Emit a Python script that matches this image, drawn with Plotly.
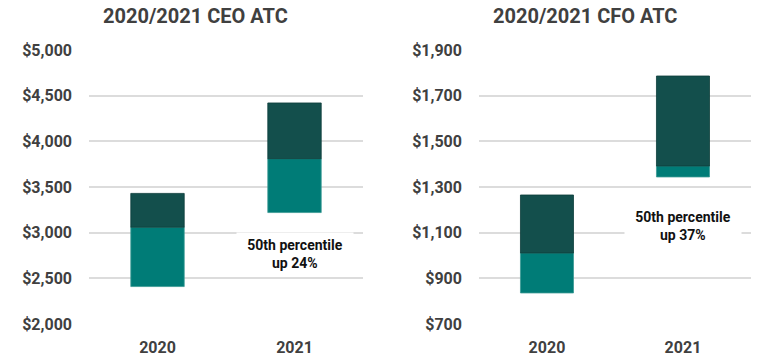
import plotly.graph_objects as go

categories = ["2020", "2021"]

ceo_low = [2410, 3220]
ceo_median = [3060, 3810]
ceo_high = [3430, 4420]

cfo_low = [836, 1344]
cfo_median = [1011, 1392]
cfo_high = [1265, 1786]

ceo_ticks = [2000, 2500, 3000, 3500, 4000, 4500, 5000]
cfo_ticks = [700, 900, 1100, 1300, 1500, 1700, 1900]

titles = ["2020/2021 CEO ATC", "2020/2021 CFO ATC"]
notes = ["50th percentile<br>up 24%", "50th percentile<br>up 37%"]

TEAL = "#007c77"
DARK = "#134f4c"
GRAY = "#404040"
FONT = "Roboto"

fig = go.Figure()

def add_bars(low, med, high, xa, ya):
    fig.add_trace(go.Bar(
        x=categories, y=[m - l for l, m in zip(low, med)], base=low,
        marker=dict(color=TEAL, line=dict(color="#3a9994", width=0.8)),
        xaxis=xa, yaxis=ya, showlegend=False, width=0.39, hoverinfo="skip"))
    fig.add_trace(go.Bar(
        x=categories, y=[h - m for m, h in zip(med, high)], base=med,
        marker=dict(color=DARK, line=dict(color="#0d3d3a", width=0.8)),
        xaxis=xa, yaxis=ya, showlegend=False, width=0.39, hoverinfo="skip"))

add_bars(ceo_low, ceo_median, ceo_high, "x", "y")
add_bars(cfo_low, cfo_median, cfo_high, "x2", "y2")

ydom = [0.1074, 0.8623]
axis_font = dict(family=FONT, size=16, color=GRAY, weight="bold")

def yaxis(ticks, anchor):
    return dict(
        domain=ydom, anchor=anchor, range=[ticks[0], ticks[-1]],
        tickvals=ticks, ticktext=["${:,}".format(t) for t in ticks],
        showgrid=True, gridcolor="#dcdcdc", gridwidth=2,
        zeroline=False, showline=False, ticks="", automargin=False,
        tickfont=axis_font, ticklabelstandoff=16, fixedrange=True)

def xaxis(dom, anchor):
    return dict(
        domain=dom, anchor=anchor, showgrid=False, zeroline=False,
        showline=False, ticks="", tickfont=axis_font, automargin=False,
        ticklabelstandoff=12, range=[-0.5, 1.5], fixedrange=True)

fig.update_layout(
    width=766, height=363,
    margin=dict(l=0, r=0, t=0, b=0, autoexpand=False),
    paper_bgcolor="white", plot_bgcolor="white",
    barmode="overlay",
    xaxis=xaxis([0.1162, 0.4739], "y"),
    xaxis2=xaxis([0.6253, 0.9804], "y2"),
    yaxis=yaxis(ceo_ticks, "x"),
    yaxis2=yaxis(cfo_ticks, "x2"),
    font=dict(family=FONT),
)

title_font = dict(family=FONT, size=20, color=GRAY, weight="bold")
fig.add_annotation(text=titles[0], x=195 / 766, y=1 - 16 / 363, xref="paper",
                   yref="paper", showarrow=False, font=title_font,
                   xanchor="center", yanchor="middle")
fig.add_annotation(text=titles[1], x=585 / 766, y=1 - 16 / 363, xref="paper",
                   yref="paper", showarrow=False, font=title_font,
                   xanchor="center", yanchor="middle")

note_font = dict(family=FONT, size=14, color="#111111", weight="bold")
fig.add_annotation(text=notes[0], x=1, y=2766, xref="x", yref="y",
                   showarrow=False, font=note_font, bgcolor="white",
                   width=114, height=40)
fig.add_annotation(text=notes[1], x=1, y=1129, xref="x2", yref="y2",
                   showarrow=False, font=note_font, bgcolor="white",
                   width=114, height=40)

fig.write_html(
    "out.html",
    config={"displayModeBar": False},
    post_script="document.body.style.margin='0';document.body.style.overflow='hidden';",
)
